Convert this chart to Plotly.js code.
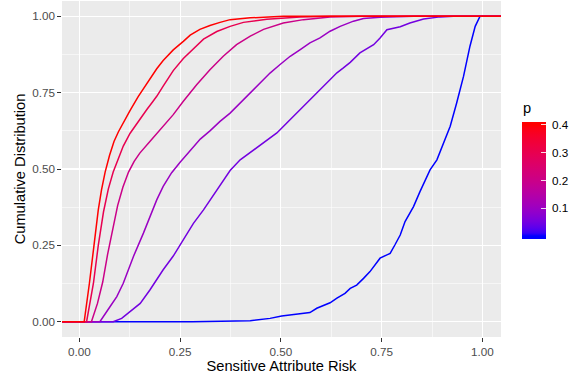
<!DOCTYPE html>
<html>
<head>
<meta charset="utf-8">
<script src="https://cdn.plot.ly/plotly-3.0.1.min.js"></script>
<style>html,body{margin:0;padding:0;background:#fff;}#chart{width:579px;height:376px;}</style>
</head>
<body>
<div id="chart"></div>
<script>
// p values of each series
const pValues = [0.4, 0.3, 0.2, 0.1, 0.05, 0.0];

// ECDF curves (x = risk, y = cumulative share)
const x_p40 = [-0.1, 0.012, 0.025, 0.036, 0.047, 0.055, 0.064, 0.075, 0.086, 0.097, 0.109, 0.126, 0.146, 0.170, 0.192, 0.208, 0.233, 0.258, 0.275, 0.299, 0.324, 0.349, 0.374, 0.424, 0.506, 1.1];
const y_p40 = [0, 0, 0.126, 0.25, 0.366, 0.432, 0.490, 0.545, 0.590, 0.622, 0.652, 0.692, 0.737, 0.785, 0.828, 0.855, 0.890, 0.918, 0.938, 0.957, 0.970, 0.980, 0.989, 0.995, 1.0, 1.0];

const x_p30 = [-0.1, 0.018, 0.035, 0.047, 0.060, 0.072, 0.084, 0.097, 0.109, 0.126, 0.146, 0.167, 0.182, 0.192, 0.208, 0.233, 0.258, 0.283, 0.308, 0.341, 0.374, 0.407, 0.465, 0.548, 0.622, 1.1];
const y_p30 = [0, 0, 0.126, 0.25, 0.360, 0.435, 0.490, 0.535, 0.575, 0.617, 0.656, 0.694, 0.720, 0.738, 0.771, 0.822, 0.862, 0.894, 0.925, 0.950, 0.967, 0.980, 0.990, 0.998, 1.0, 1.0];

const x_p20 = [-0.1, 0.030, 0.045, 0.058, 0.070, 0.082, 0.095, 0.108, 0.122, 0.136, 0.150, 0.175, 0.208, 0.233, 0.258, 0.291, 0.324, 0.357, 0.390, 0.424, 0.457, 0.506, 0.556, 0.622, 0.70, 1.1];
const y_p20 = [0, 0, 0.06, 0.13, 0.22, 0.30, 0.38, 0.44, 0.49, 0.525, 0.552, 0.59, 0.640, 0.678, 0.722, 0.776, 0.825, 0.869, 0.907, 0.935, 0.957, 0.978, 0.989, 0.998, 1.0, 1.0];

const x_p10 = [-0.1, 0.051, 0.076, 0.093, 0.109, 0.134, 0.159, 0.180, 0.192, 0.208, 0.229, 0.250, 0.275, 0.300, 0.324, 0.349, 0.374, 0.399, 0.424, 0.448, 0.473, 0.498, 0.523, 0.548, 0.572, 0.597, 0.622, 0.647, 0.680, 0.705, 0.746, 0.829, 1.1];
const y_p10 = [0, 0, 0.049, 0.082, 0.126, 0.213, 0.290, 0.360, 0.399, 0.443, 0.488, 0.522, 0.560, 0.598, 0.625, 0.656, 0.683, 0.716, 0.749, 0.782, 0.814, 0.842, 0.869, 0.891, 0.913, 0.929, 0.951, 0.967, 0.984, 0.993, 0.997, 1.0, 1.0];

const x_p05 = [-0.1, 0.084, 0.105, 0.126, 0.151, 0.175, 0.208, 0.233, 0.258, 0.283, 0.308, 0.333, 0.357, 0.374, 0.399, 0.424, 0.457, 0.490, 0.514, 0.539, 0.564, 0.589, 0.622, 0.639, 0.655, 0.672, 0.696, 0.730, 0.746, 0.763, 0.796, 0.820, 0.854, 0.895, 0.928, 1.1];
const y_p05 = [0, 0, 0.011, 0.033, 0.060, 0.104, 0.170, 0.215, 0.268, 0.322, 0.366, 0.415, 0.462, 0.495, 0.530, 0.555, 0.585, 0.618, 0.650, 0.683, 0.716, 0.749, 0.792, 0.815, 0.831, 0.849, 0.880, 0.907, 0.929, 0.956, 0.966, 0.978, 0.991, 0.998, 1.0, 1.0];

const x_p00 = [-0.1, 0.28, 0.424, 0.473, 0.502, 0.539, 0.572, 0.589, 0.622, 0.639, 0.659, 0.672, 0.688, 0.705, 0.721, 0.746, 0.771, 0.783, 0.796, 0.808, 0.829, 0.845, 0.870, 0.887, 0.903, 0.920, 0.936, 0.953, 0.969, 0.982, 0.994, 1.1];
const y_p00 = [0, 0, 0.003, 0.011, 0.019, 0.024, 0.030, 0.044, 0.062, 0.077, 0.093, 0.109, 0.120, 0.142, 0.164, 0.208, 0.224, 0.252, 0.284, 0.328, 0.377, 0.426, 0.497, 0.530, 0.585, 0.640, 0.716, 0.803, 0.902, 0.967, 1.0, 1.0];

const xs = [x_p40, x_p30, x_p20, x_p10, x_p05, x_p00];
const ys = [y_p40, y_p30, y_p20, y_p10, y_p05, y_p00];

const xTickVals = [0, 0.25, 0.5, 0.75, 1.0];
const xTickText = ["0.00", "0.25", "0.50", "0.75", "1.00"];
const yTickVals = [0, 0.25, 0.5, 0.75, 1.0];
const yTickText = ["0.00", "0.25", "0.50", "0.75", "1.00"];
const cbTickVals = [0.1, 0.2, 0.3, 0.4];
const cbTickText = ["0.1", "0.2", "0.3", "0.4"];

// ---- Lab interpolation between blue and red (like ggplot's gradient) ----
function lin(c){c/=255;return c<=0.04045?c/12.92:Math.pow((c+0.055)/1.055,2.4);}
function delin(c){c=c<=0.0031308?12.92*c:1.055*Math.pow(c,1/2.4)-0.055;return Math.max(0,Math.min(255,Math.round(c*255)));}
const Xn=0.95047,Yn=1,Zn=1.08883;
function f(t){return t>0.008856?Math.cbrt(t):7.787*t+16/116;}
function finv(t){return t*t*t>0.008856?t*t*t:(t-16/116)/7.787;}
function toLab(rgb){
  const R=lin(rgb[0]),G=lin(rgb[1]),B=lin(rgb[2]);
  const X=0.4124*R+0.3576*G+0.1805*B, Y=0.2126*R+0.7152*G+0.0722*B, Z=0.0193*R+0.1192*G+0.9505*B;
  const fx=f(X/Xn),fy=f(Y/Yn),fz=f(Z/Zn);
  return [116*fy-16,500*(fx-fy),200*(fy-fz)];
}
function fromLab(lab){
  const fy=(lab[0]+16)/116, fx=fy+lab[1]/500, fz=fy-lab[2]/200;
  const X=Xn*finv(fx),Y=Yn*finv(fy),Z=Zn*finv(fz);
  const R=3.2406*X-1.5372*Y-0.4986*Z, G=-0.9689*X+1.8758*Y+0.0415*Z, B=0.0557*X-0.2040*Y+1.0570*Z;
  return 'rgb('+delin(R)+','+delin(G)+','+delin(B)+')';
}
const labLow=toLab([0,0,255]), labHigh=toLab([255,0,0]);
const pMin=0, pMax=0.4;
function colorFor(p){
  let t=(p-pMin)/(pMax-pMin); t=Math.max(0,Math.min(1,t));
  return fromLab([0,1,2].map(i=>labLow[i]+(labHigh[i]-labLow[i])*t));
}
// colorbar limits extend half a bin beyond the data limits, like ggplot's binned bar
const cbMin=-0.0105, cbMax=0.4105;
const colorscale=[];
for(let i=0;i<=40;i++){const fr=i/40;colorscale.push([fr,colorFor(cbMin+fr*(cbMax-cbMin))]);}

const FONT='Liberation Sans, Arial, sans-serif';

const traces = xs.map((x,i)=>({
  type:'scatter', mode:'lines', x:x, y:ys[i],
  line:{color:colorFor(pValues[i]), width:1.5},
  showlegend:false, hoverinfo:'skip'
})).reverse();

traces.push({
  type:'scatter', mode:'markers', x:[null], y:[null],
  marker:{color:pValues, colorscale:colorscale, cmin:cbMin, cmax:cbMax, showscale:true, size:0,
    colorbar:{
      xref:'paper', x:(522-62)/438.7, xanchor:'left', xpad:0,
      yref:'paper', y:(336.95-180.6)/335.5, yanchor:'middle', ypad:0,
      thickness:24, thicknessmode:'pixels', len:117, lenmode:'pixels',
      outlinewidth:0, borderwidth:0,
      tickvals:cbTickVals, ticktext:cbTickText.map(t=>'\u00a0'+t),
      ticks:'inside', ticklen:5, tickcolor:'rgba(255,255,255,0.85)', tickwidth:1,
      tickfont:{size:11.7, color:'#000', family:FONT}
    }},
  showlegend:false, hoverinfo:'skip'
});

const layout = {
  width:579, height:376,
  margin:{l:62, r:78.3, t:1.45, b:39.05, pad:0},
  paper_bgcolor:'#fff', plot_bgcolor:'#EBEBEB',
  font:{family:FONT, color:'#000'},
  showlegend:false,
  annotations:[{
    text:'p', xref:'paper', yref:'paper', x:(521-62)/438.7, y:(336.95-108.5)/335.5,
    xanchor:'left', yanchor:'middle', showarrow:false,
    font:{size:14.67, color:'#000', family:FONT}
  }],
  xaxis:{
    range:[-0.043, 1.046], zeroline:false, showline:false,
    tickvals:xTickVals, ticktext:xTickText,
    ticks:'outside', ticklen:3.7, tickwidth:1, tickcolor:'#333333',
    tickfont:{size:11.7, color:'#4D4D4D'},
    showgrid:true, gridcolor:'#FFFFFF', gridwidth:1.1,
    minor:{tick0:0.125, dtick:0.25, showgrid:true, gridcolor:'#FFFFFF', gridwidth:0.55, ticks:''},
    title:{text:'Sensitive Attribute Risk', font:{size:14.67, color:'#000'}, standoff:0}
  },
  yaxis:{
    range:[-0.05, 1.05], zeroline:false, showline:false,
    tickvals:yTickVals, ticktext:yTickText,
    ticks:'outside', ticklen:3.7, tickwidth:1, tickcolor:'#333333',
    tickfont:{size:11.7, color:'#4D4D4D'},
    showgrid:true, gridcolor:'#FFFFFF', gridwidth:1.1,
    minor:{tick0:0.125, dtick:0.25, showgrid:true, gridcolor:'#FFFFFF', gridwidth:0.55, ticks:''},
    title:{text:'Cumulative Distribution', font:{size:14.67, color:'#000'}, standoff:3}
  }
};

Plotly.newPlot('chart', traces, layout, {staticPlot:true, displayModeBar:false});
</script>
</body>
</html>
